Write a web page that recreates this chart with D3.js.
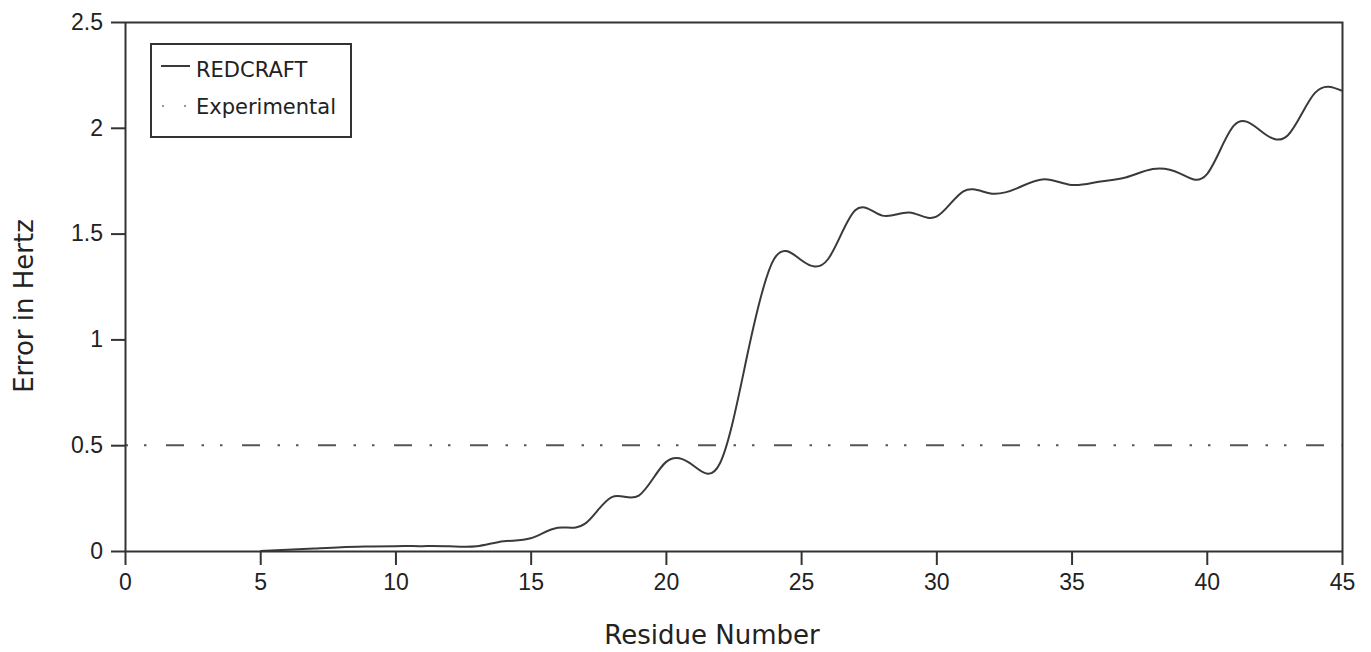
<!DOCTYPE html>
<html>
<head>
<meta charset="utf-8">
<script src="https://cdn.jsdelivr.net/npm/d3@7"></script>
<style>
  body { margin: 0; background: #fff; }
  svg { display: block; font-family: 'DejaVu Sans', Verdana, sans-serif; }
  .axis path, .axis line { stroke: #333; stroke-width: 2; }
  .axis text { fill: #222; font-size: 23px; }
</style>
</head>
<body>
<main></main>
<script>
const w = 1371;
const h = 652;
const margin = { top: 22, right: 29, bottom: 101, left: 125 };

// residue numbers and RMS error (Hz)
const residues = [5, 6, 7, 8, 9, 10, 11, 12, 13, 14, 15, 16, 17, 18, 19, 20, 21, 22, 23, 24, 25,
  26, 27, 28, 29, 30, 31, 32, 33, 34, 35, 36, 37, 38, 39, 40, 41, 42, 43, 44, 45];
const redcraft = [0.0, 0.006, 0.012, 0.018, 0.021, 0.023, 0.023, 0.022, 0.022, 0.046, 0.06, 0.11,
  0.128, 0.255, 0.262, 0.42, 0.405, 0.415, 0.92, 1.38, 1.375, 1.38, 1.61, 1.585, 1.6, 1.58, 1.7, 1.69,
  1.715, 1.757, 1.73, 1.745, 1.765, 1.805, 1.785, 1.78, 2.01, 1.985, 1.965, 2.165, 2.175];

// experimental error level
const expResidues = [0, 45];
const experimental = [0.5, 0.5];

const xTicks = [0, 5, 10, 15, 20, 25, 30, 35, 40, 45];
const yTicks = [0, 0.5, 1, 1.5, 2, 2.5];

const seriesNames = ['REDCRAFT', 'Experimental'];

const xScale = d3.scaleLinear().domain([0, 45]).range([margin.left, w - margin.right]);
const yScale = d3.scaleLinear().domain([0, 2.5]).range([h - margin.bottom, margin.top]);

const svg = d3.select('main').append('svg').attr('width', w).attr('height', h);

// frame top/right
svg.append('path')
  .attr('d', `M${xScale(0)},${yScale(2.5) + 0.5}H${xScale(45) + 0.5}V${yScale(0)}`)
  .attr('fill', 'none')
  .attr('stroke', '#333')
  .attr('stroke-width', 2);

const expLine = d3.line().x((d, i) => xScale(expResidues[i])).y(d => yScale(d));

svg.append('path')
  .datum(experimental)
  .attr('d', expLine)
  .attr('fill', 'none')
  .attr('stroke', '#555')
  .attr('stroke-width', 2)
  .attr('stroke-dasharray', '18,17.5,2.5,16,2.5,19.5')
  .attr('stroke-dashoffset', 35);

const line = d3.line()
  .x((d, i) => xScale(residues[i]))
  .y(d => yScale(d))
  .curve(d3.curveNatural);

svg.append('path')
  .datum(redcraft)
  .attr('d', line)
  .attr('fill', 'none')
  .attr('stroke', '#3a3a3a')
  .attr('stroke-width', 2);

svg.append('g')
  .attr('class', 'axis')
  .attr('transform', `translate(0,${h - margin.bottom})`)
  .call(d3.axisBottom(xScale).tickValues(xTicks).tickSize(14).tickSizeOuter(0).tickPadding(9));

svg.append('g')
  .attr('class', 'axis')
  .attr('transform', `translate(${margin.left},0)`)
  .call(d3.axisLeft(yScale).tickValues(yTicks).tickFormat(d => String(d))
    .tickSize(14).tickSizeOuter(0).tickPadding(8));

svg.append('text')
  .attr('x', 712)
  .attr('y', 644)
  .attr('text-anchor', 'middle')
  .attr('font-size', 26)
  .attr('fill', '#222')
  .text('Residue Number');

svg.append('text')
  .attr('transform', 'translate(33,306) rotate(-90)')
  .attr('text-anchor', 'middle')
  .attr('font-size', 26)
  .attr('fill', '#222')
  .text('Error in Hertz');

// legend
const legend = svg.append('g');
legend.append('rect')
  .attr('x', 151).attr('y', 44).attr('width', 200).attr('height', 93)
  .attr('fill', '#fff').attr('stroke', '#333').attr('stroke-width', 2);

legend.append('line')
  .attr('x1', 161).attr('x2', 190).attr('y1', 66).attr('y2', 66)
  .attr('stroke', '#3a3a3a').attr('stroke-width', 2);
legend.append('line')
  .attr('x1', 162).attr('x2', 190).attr('y1', 106).attr('y2', 106)
  .attr('stroke', '#999').attr('stroke-width', 2)
  .attr('stroke-dasharray', '2,20');

legend.selectAll('text.lbl')
  .data(seriesNames)
  .enter()
  .append('text')
  .attr('class', 'lbl')
  .attr('x', 196)
  .attr('y', (d, i) => 77 + i * 37)
  .attr('font-size', 21)
  .attr('fill', '#222')
  .text(d => d);
</script>
</body>
</html>
